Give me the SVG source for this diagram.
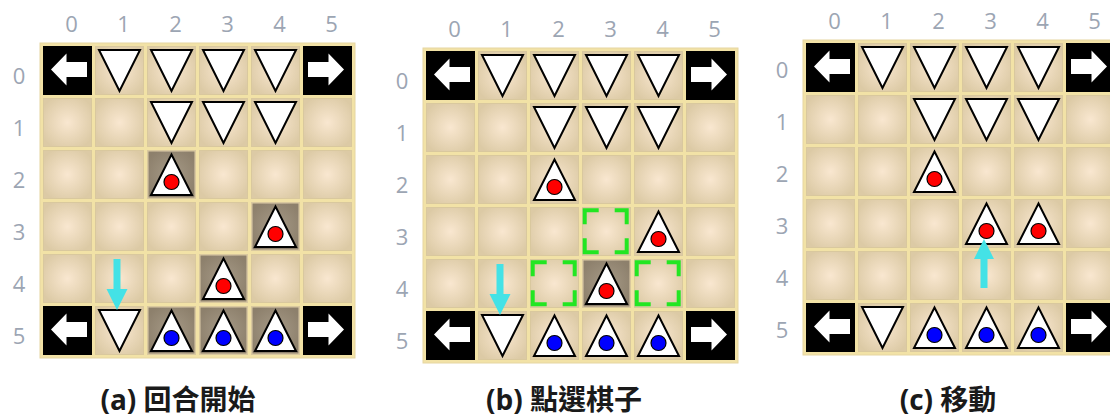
<svg xmlns="http://www.w3.org/2000/svg" xmlns:xlink="http://www.w3.org/1999/xlink" width="1110" height="419" viewBox="0 0 1110 419">
<style>
.lbl{font-family:"Open Sans","DejaVu Sans",sans-serif;font-size:22px;fill:#9ca5b3;text-anchor:middle}
.cap{font-family:"Open Sans","Noto Sans CJK TC",sans-serif;font-size:28px;font-weight:bold;fill:#1a1a1a;text-anchor:middle}
.frame{fill:#f2e2a6;stroke:#e6d6a2;stroke-width:1}
.tri{fill:#fff;stroke:#000;stroke-width:2;stroke-linejoin:miter}
.dot{stroke:#000;stroke-width:1.2}
.arw{fill:#44e2e6}
.sel{fill:none;stroke:#22e622;stroke-width:4;stroke-linejoin:miter}
</style>
<defs>
<radialGradient id="cellg" cx="50%" cy="50%" r="60%">
<stop offset="0" stop-color="#f9e7d0"/>
<stop offset="1" stop-color="#dccaa5"/>
</radialGradient>
<radialGradient id="hlg" cx="50%" cy="50%" r="60%">
<stop offset="0" stop-color="#a69a87"/>
<stop offset="1" stop-color="#8d806c"/>
</radialGradient>
<pattern id="grid" x="3" y="3" width="52" height="52" patternUnits="userSpaceOnUse">
<rect x="0.5" y="0.5" width="48" height="48" fill="url(#cellg)" stroke="#d9c89e" stroke-width="1"/>
</pattern>
<g id="down"><polygon class="tri" points="4,4 45,4 24.5,45"/></g>
<g id="upR"><polygon class="tri" points="24.5,4.5 45,45 4,45"/><circle class="dot" cx="24.5" cy="32" r="7.5" fill="#ff0000"/></g>
<g id="upB"><polygon class="tri" points="24.5,4.5 45,45 4,45"/><circle class="dot" cx="24.5" cy="32" r="7.5" fill="#0000ff"/></g>
<g id="hl"><rect x="1.5" y="1.5" width="46" height="46" fill="url(#hlg)"/></g>
<g id="larr"><rect x="0" y="0" width="49" height="49" fill="#000"/><polygon fill="#fff" points="44,16 23.5,16 23.5,7.5 8,23.5 23.5,39.5 23.5,31 44,31"/></g>
<g id="rarr"><rect x="0" y="0" width="49" height="49" fill="#000"/><polygon fill="#fff" points="5,16 25.5,16 25.5,7.5 41,23.5 25.5,39.5 25.5,31 5,31"/></g>
<g id="selc"><path class="sel" d="M2.7,17.3V3.3H16.7M32.7,3.3H44.7V17.3M2.7,31.3V45.3H16.7M32.7,45.3H44.7V31.3"/></g>
</defs>

<!-- Board (a) -->
<g id="boardA">
<g id="boardA-labels">
<text class="lbl" x="71.5" y="32">0</text><text class="lbl" x="123.5" y="32">1</text><text class="lbl" x="175.5" y="32">2</text><text class="lbl" x="227.5" y="32">3</text><text class="lbl" x="279.5" y="32">4</text><text class="lbl" x="331.5" y="32">5</text>
<text class="lbl" x="19" y="83.5">0</text><text class="lbl" x="19" y="135.5">1</text><text class="lbl" x="19" y="187.5">2</text><text class="lbl" x="19" y="239.5">3</text><text class="lbl" x="19" y="291.5">4</text><text class="lbl" x="19" y="343.5">5</text>
</g>
<g transform="translate(40,43)">
<rect class="frame" x="0" y="0" width="315" height="315"/>
<rect x="0" y="0" width="315" height="315" fill="url(#grid)"/>
</g>
<g transform="translate(43,46)">
<g id="a-0-0"><use href="#larr"/></g>
<g id="a-1-0" transform="translate(52,0)"><use href="#down"/></g>
<g id="a-2-0" transform="translate(104,0)"><use href="#down"/></g>
<g id="a-3-0" transform="translate(156,0)"><use href="#down"/></g>
<g id="a-4-0" transform="translate(208,0)"><use href="#down"/></g>
<g id="a-5-0" transform="translate(260,0)"><use href="#rarr"/></g>
<g id="a-2-1" transform="translate(104,52)"><use href="#down"/></g>
<g id="a-3-1" transform="translate(156,52)"><use href="#down"/></g>
<g id="a-4-1" transform="translate(208,52)"><use href="#down"/></g>
<g id="a-2-2" transform="translate(104,104)"><use href="#hl"/><use href="#upR"/></g>
<g id="a-4-3" transform="translate(208,156)"><use href="#hl"/><use href="#upR"/></g>
<g id="a-3-4" transform="translate(156,208)"><use href="#hl"/><use href="#upR"/></g>
<g id="a-0-5" transform="translate(0,260)"><use href="#larr"/></g>
<g id="a-1-5" transform="translate(52,260)"><use href="#down"/></g>
<g id="a-2-5" transform="translate(104,260)"><use href="#hl"/><use href="#upB"/></g>
<g id="a-3-5" transform="translate(156,260)"><use href="#hl"/><use href="#upB"/></g>
<g id="a-4-5" transform="translate(208,260)"><use href="#hl"/><use href="#upB"/></g>
<g id="a-5-5" transform="translate(260,260)"><use href="#rarr"/></g>
</g>
<text class="cap" x="178" y="410">(a) 回合開始</text>
</g>

<!-- Board (b) -->
<g id="boardB">
<g id="boardB-labels">
<text class="lbl" x="454.5" y="37">0</text><text class="lbl" x="506.5" y="37">1</text><text class="lbl" x="558.5" y="37">2</text><text class="lbl" x="610.5" y="37">3</text><text class="lbl" x="662.5" y="37">4</text><text class="lbl" x="714.5" y="37">5</text>
<text class="lbl" x="402" y="88.5">0</text><text class="lbl" x="402" y="140.5">1</text><text class="lbl" x="402" y="192.5">2</text><text class="lbl" x="402" y="244.5">3</text><text class="lbl" x="402" y="296.5">4</text><text class="lbl" x="402" y="348.5">5</text>
</g>
<g transform="translate(423,48)">
<rect class="frame" x="0" y="0" width="315" height="315"/>
<rect x="0" y="0" width="315" height="315" fill="url(#grid)"/>
</g>
<g transform="translate(426,51)">
<g id="b-0-0"><use href="#larr"/></g>
<g id="b-1-0" transform="translate(52,0)"><use href="#down"/></g>
<g id="b-2-0" transform="translate(104,0)"><use href="#down"/></g>
<g id="b-3-0" transform="translate(156,0)"><use href="#down"/></g>
<g id="b-4-0" transform="translate(208,0)"><use href="#down"/></g>
<g id="b-5-0" transform="translate(260,0)"><use href="#rarr"/></g>
<g id="b-2-1" transform="translate(104,52)"><use href="#down"/></g>
<g id="b-3-1" transform="translate(156,52)"><use href="#down"/></g>
<g id="b-4-1" transform="translate(208,52)"><use href="#down"/></g>
<g id="b-2-2" transform="translate(104,104)"><use href="#upR"/></g>
<g id="b-3-3" transform="translate(156,156)"><use href="#selc"/></g>
<g id="b-4-3" transform="translate(208,156)"><use href="#upR"/></g>
<g id="b-2-4" transform="translate(104,208)"><use href="#selc"/></g>
<g id="b-3-4" transform="translate(156,208)"><use href="#hl"/><use href="#upR"/></g>
<g id="b-4-4" transform="translate(208,208)"><use href="#selc"/></g>
<g id="b-0-5" transform="translate(0,260)"><use href="#larr"/></g>
<g id="b-1-5" transform="translate(52,260)"><use href="#down"/></g>
<g id="b-2-5" transform="translate(104,260)"><use href="#upB"/></g>
<g id="b-3-5" transform="translate(156,260)"><use href="#upB"/></g>
<g id="b-4-5" transform="translate(208,260)"><use href="#upB"/></g>
<g id="b-5-5" transform="translate(260,260)"><use href="#rarr"/></g>
</g>
<text class="cap" x="564" y="410">(b) 點選棋子</text>
</g>

<!-- Board (c) -->
<g id="boardC">
<g id="boardC-labels">
<text class="lbl" x="834.5" y="29">0</text><text class="lbl" x="886.5" y="29">1</text><text class="lbl" x="938.5" y="29">2</text><text class="lbl" x="990.5" y="29">3</text><text class="lbl" x="1042.5" y="29">4</text><text class="lbl" x="1094.5" y="29">5</text>
<text class="lbl" x="782" y="77.5">0</text><text class="lbl" x="782" y="129.5">1</text><text class="lbl" x="782" y="181.5">2</text><text class="lbl" x="782" y="233.5">3</text><text class="lbl" x="782" y="285.5">4</text><text class="lbl" x="782" y="337.5">5</text>
</g>
<g transform="translate(803,40)">
<rect class="frame" x="0" y="0" width="315" height="315"/>
<rect x="0" y="0" width="315" height="315" fill="url(#grid)"/>
</g>
<g transform="translate(806,43)">
<g id="c-0-0"><use href="#larr"/></g>
<g id="c-1-0" transform="translate(52,0)"><use href="#down"/></g>
<g id="c-2-0" transform="translate(104,0)"><use href="#down"/></g>
<g id="c-3-0" transform="translate(156,0)"><use href="#down"/></g>
<g id="c-4-0" transform="translate(208,0)"><use href="#down"/></g>
<g id="c-5-0" transform="translate(260,0)"><use href="#rarr"/></g>
<g id="c-2-1" transform="translate(104,52)"><use href="#down"/></g>
<g id="c-3-1" transform="translate(156,52)"><use href="#down"/></g>
<g id="c-4-1" transform="translate(208,52)"><use href="#down"/></g>
<g id="c-2-2" transform="translate(104,104)"><use href="#upR"/></g>
<g id="c-3-3" transform="translate(156,156)"><use href="#upR"/></g>
<g id="c-4-3" transform="translate(208,156)"><use href="#upR"/></g>
<g id="c-0-5" transform="translate(0,260)"><use href="#larr"/></g>
<g id="c-1-5" transform="translate(52,260)"><use href="#down"/></g>
<g id="c-2-5" transform="translate(104,260)"><use href="#upB"/></g>
<g id="c-3-5" transform="translate(156,260)"><use href="#upB"/></g>
<g id="c-4-5" transform="translate(208,260)"><use href="#upB"/></g>
<g id="c-5-5" transform="translate(260,260)"><use href="#rarr"/></g>
</g>
<text class="cap" x="948" y="410">(c) 移動</text>
</g>

<g id="connectors">
<polygon class="arw" points="113.5,259 120.5,259 120.5,289 127.5,289 117,310 106.5,289 113.5,289"/>
<polygon class="arw" points="496.5,264 503.5,264 503.5,294 510.5,294 500,315 489.5,294 496.5,294"/>
<polygon class="arw" points="980.5,288 987.5,288 987.5,259 994,259 984,239 974,259 980.5,259"/>
</g>
</svg>
